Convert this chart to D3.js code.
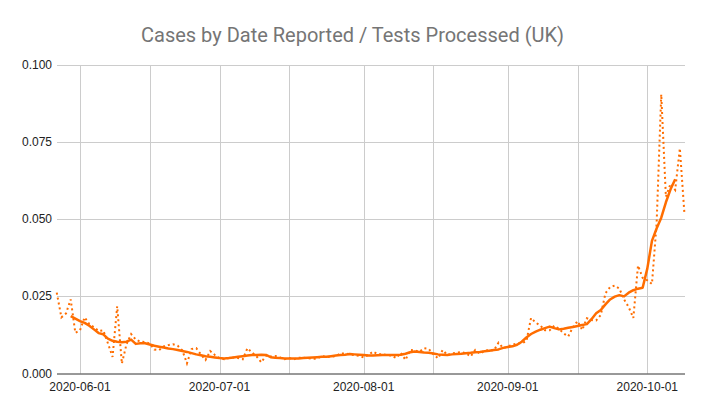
<!DOCTYPE html>
<html>
<head>
<meta charset="utf-8">
<script src="https://cdn.jsdelivr.net/npm/d3@7"></script>
<style>
  html, body { margin: 0; padding: 0; background: #fff; }
  svg { display: block; }
</style>
</head>
<body>
<svg id="chart" width="705" height="415"></svg>
<script>
// ---- data ----
const title = "Cases by Date Reported / Tests Processed (UK)";
const startDate = "2020-05-27";
const endDate = "2020-10-09";
// daily ratio (dotted), one value per day from startDate
const dailyRatio = [
  0.0262, 0.0182, 0.0195, 0.0240, 0.0132, 0.0140, 0.0182, 0.0160, 0.0150, 0.0138,
  0.0140, 0.0098, 0.0054, 0.0218, 0.0032, 0.0095, 0.0128, 0.0110, 0.0103, 0.0102,
  0.0097, 0.0078, 0.0076, 0.0088, 0.0092, 0.0095, 0.0090, 0.0075, 0.0033, 0.0079,
  0.0082, 0.0062, 0.0044, 0.0073, 0.0060, 0.0050, 0.0046, 0.0050, 0.0052, 0.0050,
  0.0046, 0.0082, 0.0068, 0.0055, 0.0036, 0.0058, 0.0055, 0.0057, 0.0052, 0.0046,
  0.0050, 0.0046, 0.0051, 0.0051, 0.0050, 0.0048, 0.0048, 0.0057, 0.0053, 0.0055,
  0.0056, 0.0065, 0.0065, 0.0062, 0.0060, 0.0057, 0.0052, 0.0060, 0.0071, 0.0063,
  0.0062, 0.0060, 0.0058, 0.0050, 0.0067, 0.0044, 0.0076, 0.0075, 0.0070, 0.0082,
  0.0080, 0.0062, 0.0049, 0.0076, 0.0060, 0.0065, 0.0068, 0.0069, 0.0066, 0.0055,
  0.0076, 0.0064, 0.0074, 0.0076, 0.0075, 0.0100, 0.0082, 0.0088, 0.0093, 0.0098,
  0.0098, 0.0105, 0.0180, 0.0165, 0.0155, 0.0140, 0.0140, 0.0155, 0.0145, 0.0130,
  0.0120, 0.0150, 0.0170, 0.0141, 0.0179, 0.0173, 0.0172, 0.0190, 0.0260, 0.0280,
  0.0285, 0.0275, 0.0240, 0.0215, 0.0180, 0.0350, 0.0310, 0.0302, 0.0290, 0.0485,
  0.0905, 0.0573, 0.0615, 0.0595, 0.0730, 0.0515
];
// 7-day average (solid), starts 3 days after startDate
const avgOffsetDays = 3;
const avgRatio = [
  0.0186, 0.0178, 0.0170, 0.0164, 0.0155, 0.0143, 0.0131, 0.0127, 0.0113, 0.0106,
  0.0103, 0.0101, 0.0103, 0.0110, 0.0096, 0.0098, 0.0098, 0.0094, 0.0090, 0.0087,
  0.0084, 0.0081, 0.0079, 0.0076, 0.0073, 0.0070, 0.0066, 0.0062, 0.0059, 0.0056,
  0.0054, 0.0052, 0.0050, 0.0049, 0.0050, 0.0052, 0.0054, 0.0056, 0.0058, 0.0060,
  0.0060, 0.0061, 0.0060, 0.0053, 0.0051, 0.0050, 0.0049, 0.0049, 0.0049, 0.0049,
  0.0050, 0.0051, 0.0052, 0.0053, 0.0054, 0.0054, 0.0056, 0.0058, 0.0060, 0.0061,
  0.0063, 0.0062, 0.0061, 0.0060, 0.0058, 0.0058, 0.0059, 0.0060, 0.0060, 0.0060,
  0.0060, 0.0061, 0.0064, 0.0069, 0.0071, 0.0070, 0.0068, 0.0067, 0.0065, 0.0062,
  0.0061, 0.0060, 0.0062, 0.0063, 0.0064, 0.0066, 0.0067, 0.0069, 0.0070, 0.0072,
  0.0074, 0.0076, 0.0078, 0.0083, 0.0086, 0.0088, 0.0093, 0.0103, 0.0117, 0.0128,
  0.0136, 0.0142, 0.0147, 0.0152, 0.0147, 0.0143, 0.0145, 0.0148, 0.0151, 0.0154,
  0.0157, 0.0160, 0.0176, 0.0195, 0.0206, 0.0224, 0.0240, 0.0249, 0.0254, 0.0250,
  0.0262, 0.0270, 0.0275, 0.0278, 0.0340, 0.0430, 0.0470, 0.0505, 0.0555, 0.0597,
  0.0630
];
const yTicks = [0, 0.025, 0.05, 0.075, 0.1];
const gridDates = ["2020-06-01","2020-06-16","2020-07-01","2020-07-16","2020-08-01","2020-08-16","2020-09-01","2020-09-16","2020-10-01"];
const labelDates = ["2020-06-01","2020-07-01","2020-08-01","2020-09-01","2020-10-01"];

// ---- chart ----
const parse = d3.utcParse("%Y-%m-%d");
const fmt = d3.utcFormat("%Y-%m-%d");
const d0 = parse(startDate), d1 = parse(endDate);
const days = d3.utcDay.range(d0, d3.utcDay.offset(d1, 1));

const svg = d3.select("#chart");
const x = d3.scaleUtc().domain([d0, d1]).range([56.75, 684.5]);
const y = d3.scaleLinear().domain([0, 0.1]).range([373.5, 65]);
const orange = "#ff6d00";

svg.append("text")
  .attr("x", 352.5).attr("y", 42)
  .attr("text-anchor", "middle")
  .attr("font-family", "Roboto, 'Liberation Sans', Arial, sans-serif")
  .attr("font-size", 20)
  .attr("fill", "#757575")
  .text(title);

// horizontal grid
const gY = svg.append("g");
gY.selectAll("line").data(yTicks.filter(t => t > 0)).join("line")
  .attr("x1", 57).attr("x2", 685)
  .attr("y1", d => Math.round(y(d)) + 0.5).attr("y2", d => Math.round(y(d)) + 0.5)
  .attr("stroke", "#cccccc").attr("stroke-width", 1);
gY.selectAll("text").data(yTicks).join("text")
  .attr("x", 52).attr("y", d => y(d) + 4)
  .attr("text-anchor", "end")
  .attr("font-family", "'Liberation Sans', Arial, sans-serif")
  .attr("font-size", 12).attr("fill", "#222")
  .text(d => d3.format(".3f")(d));

// vertical grid
svg.append("g").selectAll("line").data(gridDates.map(parse)).join("line")
  .attr("x1", d => Math.round(x(d)) + 0.5).attr("x2", d => Math.round(x(d)) + 0.5)
  .attr("y1", 65).attr("y2", 373.5)
  .attr("stroke", "#cccccc").attr("stroke-width", 1);

svg.append("g").selectAll("text").data(labelDates.map(parse)).join("text")
  .attr("x", d => x(d)).attr("y", 391)
  .attr("text-anchor", "middle")
  .attr("font-family", "'Liberation Sans', Arial, sans-serif")
  .attr("font-size", 12).attr("fill", "#222")
  .text(d => fmt(d));

// baseline
svg.append("line")
  .attr("x1", 57).attr("x2", 685).attr("y1", 374).attr("y2", 374)
  .attr("stroke", "#333").attr("stroke-width", 1);

const daily = dailyRatio.map((v, i) => ({ date: days[i], v }));
const avg = avgRatio.map((v, i) => ({ date: d3.utcDay.offset(d0, i + avgOffsetDays), v }));

const line = d3.line().x(d => x(d.date)).y(d => y(d.v));

svg.append("path").datum(daily)
  .attr("d", line)
  .attr("fill", "none").attr("stroke", orange)
  .attr("stroke-width", 2).attr("stroke-dasharray", "2,3");

svg.append("path").datum(avg)
  .attr("d", line)
  .attr("fill", "none").attr("stroke", orange)
  .attr("stroke-width", 2.5).attr("stroke-linejoin", "round");
</script>
</body>
</html>
